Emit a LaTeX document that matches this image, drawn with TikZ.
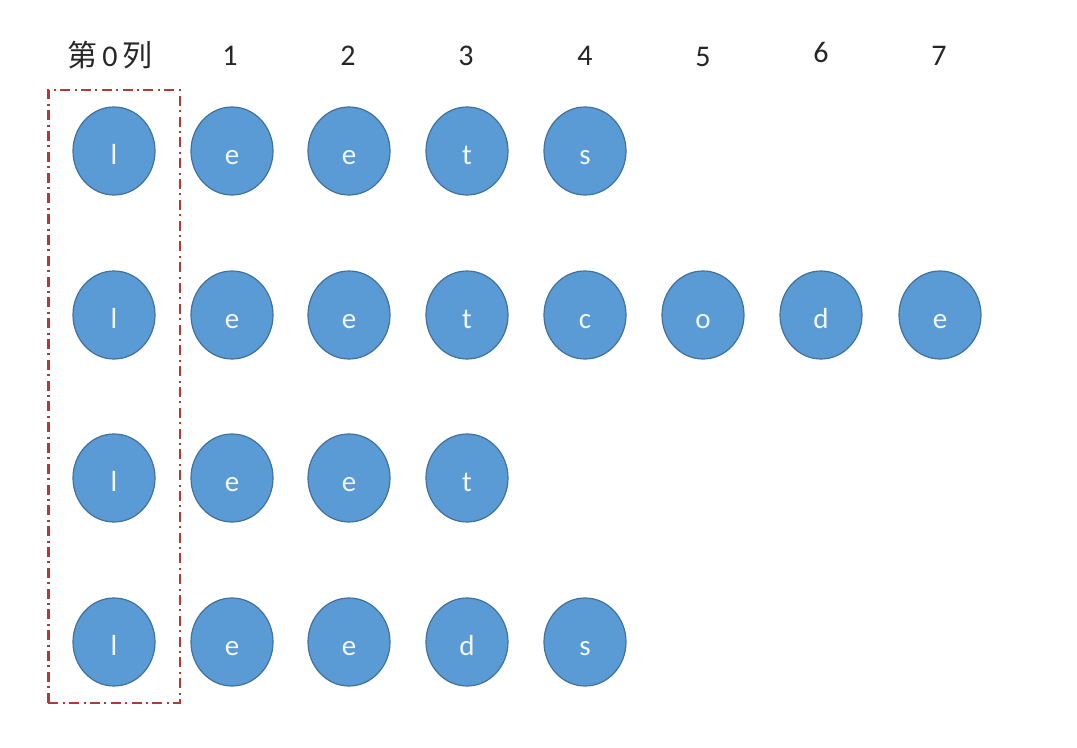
\documentclass[tikz,border=0pt]{standalone}
\usepackage{fontspec}
\setmainfont{Carlito}
\newfontfamily\cjk{Noto Sans CJK SC}
\usepackage{tikz}
\usetikzlibrary{positioning,shapes.geometric,fit}
\definecolor{ballblue}{HTML}{5B9BD5}
\definecolor{balledge}{HTML}{41719C}
\definecolor{boxred}{HTML}{B03A36}
\tikzset{
  ball/.style={ellipse, draw=balledge, line width=0.6pt, fill=ballblue, minimum width=41pt, minimum height=44pt, inner sep=0pt, text=white!92!ballblue, font=\fontsize{14.5}{17}\selectfont, text height=13.5pt, text depth=0pt},
  colhead/.style={font=\fontsize{15}{18}\selectfont, text=black!85},
  colbox/.style={draw=boxred, line width=1.1pt, dash pattern=on 5pt off 2.2pt on 1pt off 2.2pt, inner xsep=12pt, inner ysep=8pt}
}

\begin{document}
\begin{tikzpicture}[x=0.5pt, y=-0.5pt]
  \useasboundingbox (0,0) rectangle (1077,748);
  % column numbers
  \node[colhead] (h0) at (110,55) {{\cjk 第}\,0\,{\cjk 列}};
  \node[colhead] (h1) at (230,56) {1};
  \node[colhead] (h2) at (348,56) {2};
  \node[colhead] (h3) at (466,56) {3};
  \node[colhead] (h4) at (585,56) {4};
  \node[colhead] (h5) at (703,57) {5};
  \node[colhead] (h6) at (821,52) {6};
  \node[colhead] (h7) at (939,56) {7};
  % leets
  \node[ball] (a0) at (114,151) {l};
  \node[ball] (a1) at (232,151) {e};
  \node[ball] (a2) at (349,151) {e};
  \node[ball] (a3) at (467,151) {t};
  \node[ball] (a4) at (585,151) {s};
  % leetcode
  \node[ball] (b0) at (114,315) {l};
  \node[ball] (b1) at (232,315) {e};
  \node[ball] (b2) at (349,315) {e};
  \node[ball] (b3) at (467,315) {t};
  \node[ball] (b4) at (585,315) {c};
  \node[ball] (b5) at (703,315) {o};
  \node[ball] (b6) at (821,315) {d};
  \node[ball] (b7) at (940,315) {e};
  % leet
  \node[ball] (c0) at (114,478) {l};
  \node[ball] (c1) at (232,478) {e};
  \node[ball] (c2) at (349,478) {e};
  \node[ball] (c3) at (467,478) {t};
  % leeds
  \node[ball] (d0) at (114,642) {l};
  \node[ball] (d1) at (232,642) {e};
  \node[ball] (d2) at (349,642) {e};
  \node[ball] (d3) at (467,642) {d};
  \node[ball] (d4) at (585,642) {s};
  % first column box
  \node[colbox, fit=(a0)(d0)] (col0) {};
\end{tikzpicture}
\end{document}
